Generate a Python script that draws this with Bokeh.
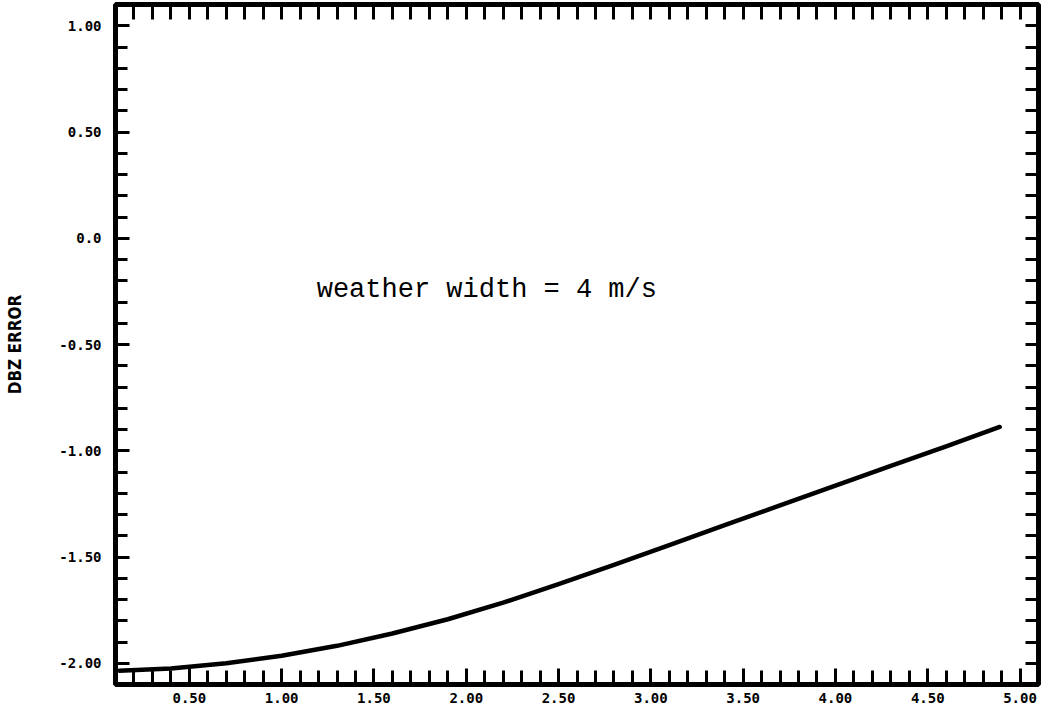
from bokeh.plotting import figure
from bokeh.models import LinearAxis, FixedTicker, Label, Range1d
from bokeh.embed import file_html
from bokeh.resources import INLINE

# ---- data ----
range_x = [0.12, 0.40, 0.70, 1.00, 1.30, 1.60, 1.90, 2.20, 2.50, 2.80, 3.10, 3.40, 3.70,
           4.00, 4.30, 4.60, 4.89]
dbz_error = [-2.035, -2.025, -2.000, -1.965, -1.918, -1.860, -1.793, -1.715, -1.628, -1.537,
             -1.444, -1.350, -1.257, -1.164, -1.071, -0.979, -0.888]

x_major = [0.5, 1.0, 1.5, 2.0, 2.5, 3.0, 3.5, 4.0, 4.5, 5.0]
x_labels = ["0.50", "1.00", "1.50", "2.00", "2.50", "3.00", "3.50", "4.00", "4.50", "5.00"]
y_major = [1.0, 0.5, 0.0, -0.5, -1.0, -1.5, -2.0]
y_labels = ["1.00", "0.50", "0.0", "-0.50", "-1.00", "-1.50", "-2.00"]
x_minor = [round(0.1 * i, 1) for i in range(1, 52)]
y_minor = [round(-2.1 + 0.1 * i, 1) for i in range(0, 33)]

annotation = "weather width = 4 m/s"
y_title = "DBZ ERROR"

p = figure(width=1048, height=712, output_backend="svg", toolbar_location=None,
           x_range=Range1d(0.1, 5.1), y_range=Range1d(-2.1, 1.1),
           x_axis_location=None, y_axis_location=None,
           min_border_left=115, min_border_right=10, min_border_top=4, min_border_bottom=28)
p.grid.visible = False
p.outline_line_color = "black"
p.outline_line_width = 5
p.background_fill_color = "white"
p.border_fill_color = "white"

tick_font = "DejaVu Sans Mono"

def style(ax, tin, min_in):
    ax.axis_line_color = None
    ax.major_tick_in = tin
    ax.major_tick_out = 0
    ax.minor_tick_in = min_in
    ax.minor_tick_out = 0
    ax.major_tick_line_width = 3
    ax.minor_tick_line_width = 3
    ax.major_tick_line_color = "black"
    ax.minor_tick_line_color = "black"
    ax.major_label_text_font = tick_font
    ax.major_label_text_font_style = "bold"
    ax.major_label_text_font_size = "14px"
    ax.major_label_text_color = "black"

# bottom axis (labelled)
xb = LinearAxis(ticker=FixedTicker(ticks=x_major, minor_ticks=x_minor),
                major_label_overrides=dict(zip(x_major, x_labels)))
style(xb, 16, 14)
xb.major_label_standoff = 8
p.add_layout(xb, "below")

# top axis: inward ticks only, no labels
xt = LinearAxis(ticker=FixedTicker(ticks=[], minor_ticks=x_minor))
style(xt, 15, 15)
xt.major_label_standoff = 0
p.add_layout(xt, "above")

# left axis (labelled)
yl = LinearAxis(ticker=FixedTicker(ticks=y_major, minor_ticks=y_minor),
                major_label_overrides=dict(zip(y_major, y_labels)),
                axis_label=y_title)
style(yl, 14, 12)
yl.major_label_standoff = 14
yl.axis_label_standoff = 31
yl.axis_label_text_font = "DejaVu Sans Condensed"
yl.axis_label_text_font_style = "bold"
yl.axis_label_text_font_size = "17px"
yl.axis_label_text_color = "black"
p.add_layout(yl, "left")

# right axis: inward ticks only, no labels
yr = LinearAxis(ticker=FixedTicker(ticks=[], minor_ticks=y_minor))
style(yr, 13, 13)
yr.major_label_standoff = 0
p.add_layout(yr, "right")

p.line(range_x, dbz_error, line_color="black", line_width=4.5, line_cap="round", line_join="round")

p.add_layout(Label(x=1.19, y=-0.245, text=annotation, text_font="Liberation Mono",
                   text_font_size="27px", text_color="black", text_baseline="alphabetic",
                   text_align="left"))

open("out.html", "w").write(file_html(p, INLINE))
